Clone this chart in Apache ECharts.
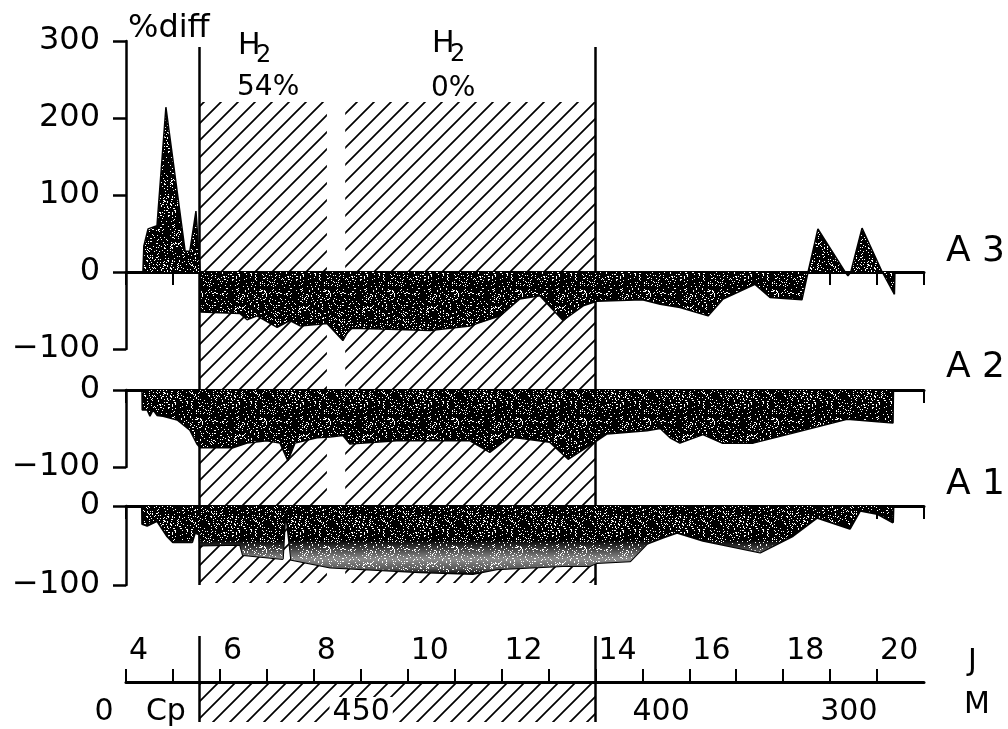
<!DOCTYPE html>
<html><head><meta charset="utf-8">
<script src="https://cdn.jsdelivr.net/npm/echarts@6/dist/echarts.min.js"></script>
<style>html,body{margin:0;padding:0;background:#fff}#c{width:1008px;height:729px}</style>
</head><body><div id="c"></div>
<script>
// ---- data (x = J, y = % diff) ----
const a3 = [[4.36,0],[4.38,34],[4.47,56],[4.66,60],[4.85,214],[5.26,27],[5.36,27],[5.49,79],[5.58,0],[5.59,-52],
  [6.43,-54],[6.58,-62],[6.79,-57],[7.22,-72],[7.49,-63],[7.71,-70],[8.28,-67],[8.62,-89],[8.77,-73],[9.41,-74],
  [10.48,-76],[11.33,-70],[11.97,-57],[12.39,-35],[12.82,-31],[13.31,-63],[13.74,-44],[14.03,-38],[15.0,-36],
  [15.38,-42],[15.8,-46],[16.40,-57],[16.72,-35],[17.40,-16],[17.72,-33],[18.40,-36],[18.53,0],[18.74,56],
  [19.32,0],[19.38,-5],[19.44,0],[19.68,57],[20.11,0],[20.37,-29],[20.38,0]];
const a2 = [[4.34,0],[4.345,-26],[4.45,-26],[4.51,-34],[4.58,-26],[4.66,-33],[4.79,-34],[5.09,-39],[5.36,-52],
  [5.51,-70],[5.58,-75],[6.28,-75],[6.58,-69],[7.00,-66],[7.28,-69],[7.45,-92],[7.60,-69],[8.07,-62],[8.35,-61],
  [8.62,-59],[8.77,-70],[9.77,-66],[11.33,-66],[11.75,-81],[12.18,-61],[13.03,-68],[13.42,-90],[13.88,-72],
  [14.03,-66],[14.25,-57],[15.1,-53],[15.38,-50],[15.59,-62],[15.80,-69],[16.29,-58],[16.70,-69],[17.36,-69],
  [18.21,-56],[19.36,-38],[20.34,-43],[20.35,0]];
const a1 = [[4.34,0],[4.345,-23],[4.45,-25],[4.66,-19],[4.87,-38],[5.00,-46],[5.41,-46],[5.47,-34],[5.56,-36],
  [5.58,-50],[6.43,-49],[6.49,-62],[7.34,-67],[7.40,-6],[7.52,-68],[8.35,-78],[9.05,-80],[10.26,-84],[11.39,-86],
  [11.90,-80],[13.31,-76],[13.88,-76],[14.03,-72],[14.74,-70],[15.10,-48],[15.45,-40],[15.74,-34],[16.29,-44],
  [17.51,-59],[18.21,-38],[18.72,-15],[19.42,-29],[19.64,-6],[20.00,-10],[20.34,-21],[20.35,0]];
const hatchSpans = [[5.56, 8.28], [8.67, 14.0]];
const bottomHatch = [[5.56, 14.0]];
const dividers = [5.56, 14.0];
const jTicks = [4,5,6,7,8,9,10,11,12,13,14,15,16,17,18,19,20];
const jLabels = [4,6,8,10,12,14,16,18,20];
const mPos = [3.53, 4.85, 9.01, 15.40, 19.40];
const mText = ['0', 'Cp', '450', '400', '300'];

// ---- textures ----
function hatch() {
  const s = 17, c = document.createElement('canvas'); c.width = c.height = s;
  const g = c.getContext('2d'); g.strokeStyle = '#000'; g.lineWidth = 1.7; g.beginPath();
  g.moveTo(-2, s + 2); g.lineTo(s + 2, -2);
  g.moveTo(-2, 2); g.lineTo(2, -2);
  g.moveTo(s - 2, s + 2); g.lineTo(s + 2, s - 2);
  g.stroke(); return c;
}
function stipple(density) {
  const s = 64, c = document.createElement('canvas'); c.width = c.height = s;
  const g = c.getContext('2d'); g.fillStyle = '#000'; g.fillRect(0, 0, s, s); g.fillStyle = '#fff';
  for (let y = 0; y < s; y++) for (let x = 0; x < s; x++) {
    let h = Math.imul(x + 1, 374761393) ^ Math.imul(y + 7, 668265263);
    h = Math.imul(h ^ (h >>> 13), 1274126177); h = (h ^ (h >>> 16)) >>> 0;
    if (h % 1000 < density * 1000) g.fillRect(x, y, 1, 1);
  }
  return c;
}
const HATCH = { image: hatch(), repeat: 'repeat' };
const STIP = { image: stipple(0.12), repeat: 'repeat' };

const FONT = 'DejaVu Sans';
const L = 126, W = 798;
const gridBoxes = [[41,308],[390,77],[506,79],[640,42],[682,40],[102,481],[47,538],[636,86]];
const grid = gridBoxes.map(b => ({left: L, width: W, top: b[0], height: b[1], containLabel: false, outerBoundsMode: 'none'}));

const hidden = i => ({type: 'value', gridIndex: i, min: 0, max: 1, show: false});
const hiddenX = i => ({type: 'value', gridIndex: i, min: 4, max: 21, show: false});
const minus = v => v < 0 ? '\u2212' + Math.abs(v) : String(v);

const xAxis = [
  {type:'value', gridIndex:0, min:4, max:21, interval:1,
   axisLine:{show:true, onZero:true, lineStyle:{color:'#000', width:3}},
   axisTick:{show:true, inside:false, length:13, lineStyle:{color:'#000', width:2}},
   axisLabel:{show:false}, splitLine:{show:false}},
  {type:'value', gridIndex:1, min:4, max:21, interval:1, position:'top',
   axisLine:{show:true, lineStyle:{color:'#000', width:3}},
   axisTick:{show:true, inside:true, length:13, lineStyle:{color:'#000', width:2}},
   axisLabel:{show:false}, splitLine:{show:false}},
  {type:'value', gridIndex:2, min:4, max:21, interval:1, position:'top',
   axisLine:{show:true, lineStyle:{color:'#000', width:3}},
   axisTick:{show:true, inside:true, length:13, lineStyle:{color:'#000', width:2}},
   axisLabel:{show:false}, splitLine:{show:false}},
  {type:'value', gridIndex:3, min:4, max:21, interval:1, position:'bottom',
   axisLine:{show:true, onZero:false, lineStyle:{color:'#000', width:3}},
   axisTick:{show:true, inside:true, length:13, customValues: jTicks, lineStyle:{color:'#000', width:2}},
   axisLabel:{show:true, inside:true, margin:16, align:'left', verticalAlign:'bottom', padding:[0,0,0,3],
     customValues: jLabels, color:'#000', fontFamily:FONT, fontSize:30, formatter: v => String(v)},
   splitLine:{show:false}},
  hiddenX(4), hiddenX(5), hiddenX(6), hiddenX(7)
];
const yLab = {show:true, margin:26, color:'#000', fontFamily:FONT, fontSize:32, formatter:minus};
const yLine = {show:true, onZero:false, lineStyle:{color:'#000', width:2.5}};
const yTick = {show:true, inside:false, length:13, lineStyle:{color:'#000', width:2.5}};
const yAxis = [
  {type:'value', gridIndex:0, min:-100, max:300, interval:100, axisLine:yLine, axisTick:yTick, axisLabel:yLab, splitLine:{show:false}},
  {type:'value', gridIndex:1, min:-100, max:0, interval:100, axisLine:yLine, axisTick:yTick, axisLabel:yLab, splitLine:{show:false}},
  {type:'value', gridIndex:2, min:-100, max:0, interval:100, axisLine:yLine, axisTick:yTick, axisLabel:yLab, splitLine:{show:false}},
  hidden(3), hidden(4), hidden(5), hidden(6), hidden(7)
];

const area = (i, data, fill, lw, z) => ({
  type:'line', xAxisIndex:i, yAxisIndex:i, data, symbol:'none', silent:true, z: z || 5,
  lineStyle:{color:'#000', width:lw}, areaStyle:{color:fill, opacity:1, origin:'auto'}
});
const A1GLOW = {type:'linear', x:0, y:0, x2:0, y2:1, colorStops:[
  {offset:0, color:'rgba(255,255,255,0)'}, {offset:0.5, color:'rgba(255,255,255,0)'},
  {offset:0.78, color:'rgba(255,255,255,0.55)'}, {offset:0.92, color:'rgba(255,255,255,0.35)'},
  {offset:1, color:'rgba(255,255,255,0)'}]};

const divLine = i => ({type:'line', xAxisIndex:i, yAxisIndex:i, data:[], silent:true, z:6,
  markLine:{silent:true, symbol:['none','none'], animation:false, label:{show:false},
    lineStyle:{color:'#000', width:2.5, type:'solid'}, data: dividers.map(v => ({xAxis:v}))}});

const a1glow = area(2, a1, A1GLOW, 0, 6);
a1glow.lineStyle = {width: 0, opacity: 0};

const series = [
  {type:'line', xAxisIndex:5, yAxisIndex:5, data:[], silent:true, z:1,
   markArea:{silent:true, animation:false, itemStyle:{color:HATCH, opacity:1},
     data: hatchSpans.map(s => [{xAxis:s[0]}, {xAxis:s[1]}])}},
  {type:'line', xAxisIndex:4, yAxisIndex:4, data:[], silent:true, z:1,
   markArea:{silent:true, animation:false, itemStyle:{color:HATCH, opacity:1},
     data: bottomHatch.map(s => [{xAxis:s[0]}, {xAxis:s[1]}])}},
  area(0, a3, STIP, 1.5),
  area(1, a2, STIP, 1.5),
  area(2, a1, STIP, 2),
  a1glow,
  divLine(6), divLine(7),
  {type:'scatter', xAxisIndex:4, yAxisIndex:4, clip:false, silent:true, z:8, symbolSize:1,
   itemStyle:{color:'#fff', opacity:1},
   data: mPos.map((p, i) => ({value:[p, 0.25], label:{formatter: mText[i]}})),
   label:{show:true, position:'inside', color:'#000', opacity:1, fontFamily:FONT, fontSize:30,
     backgroundColor:'#fff', padding:[0,3]}}
];

const txt = (text, x, y, size) => ({type:'text', silent:true, z:20,
  style:{text, x, y, fill:'#000', font: size + 'px "' + FONT + '"', align:'left', verticalAlign:'middle'}});
const graphic = [
  txt('%diff', 128, 29, 32),
  txt('H', 238, 46, 30), txt('2', 256, 56, 24), txt('54%', 237, 88, 28),
  txt('H', 432, 44, 30), txt('2', 450, 55, 24), txt('0%', 431, 89, 28),
  txt('A 3', 946, 252, 36), txt('A 2', 946, 368, 36), txt('A 1', 946, 485, 36),
  txt('J', 968, 662, 30), txt('M', 964, 705, 30)
];

const chart = echarts.init(document.getElementById('c'), null, {renderer:'canvas'});
chart.setOption({animation:false, backgroundColor:'#fff', grid, xAxis, yAxis, series, graphic});
</script></body></html>
